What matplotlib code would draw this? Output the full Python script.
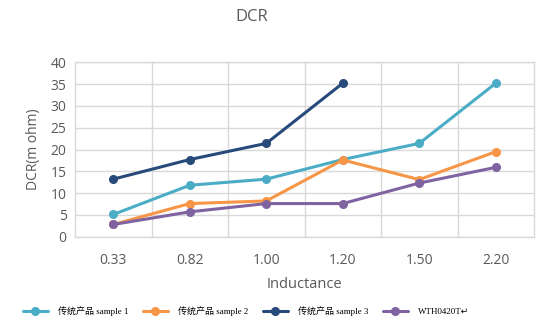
import numpy as np
import matplotlib.pyplot as plt

# data
categories = ["0.33", "0.82", "1.00", "1.20", "1.50", "2.20"]
sample1 = [5.1, 11.8, 13.2, 17.7, 21.4, 35.2]
sample2 = [2.8, 7.6, 8.2, 17.6, 13.1, 19.5]
sample3 = [13.2, 17.7, 21.4, 35.2]
wth0420t = [2.8, 5.7, 7.6, 7.6, 12.3, 15.9]

labels = ["传统产品 sample 1", "传统产品 sample 2", "传统产品 sample 3", "WTH0420T↵"]
colors = ["#4BACC6", "#F79646", "#284A7A", "#8064A2"]

sans = ["Open Sans", "DejaVu Sans"]
legend_font = ["Liberation Serif", "Noto Sans CJK SC", "DejaVu Sans"]
gray = "#595959"

fig = plt.figure(figsize=(5.48, 3.25), dpi=100)
ax = fig.add_axes([75 / 548, 1 - 236.7 / 325, (534 - 75) / 548, (236.7 - 62.3) / 325])

x = np.arange(len(categories))
series = [sample1, sample2, sample3, wth0420t]
for vals, lab, col in zip(series, labels, colors):
    ax.plot(x[:len(vals)], vals, color=col, lw=2.2, marker="o", ms=5.5,
            label=lab, solid_capstyle="round", zorder=3)

ax.set_xlim(-0.5, len(categories) - 0.5)
ax.set_ylim(0, 40)
ax.set_yticks(np.arange(0, 41, 5))
ax.set_xticks(x)
ax.set_xticklabels(categories)

# gridlines between categories and at every y tick
ax.set_xticks(np.arange(0.5, len(categories) - 0.5, 1), minor=True)
ax.grid(True, which="major", axis="y", color="#D9D9D9", lw=1)
ax.grid(True, which="minor", axis="x", color="#D9D9D9", lw=1)
ax.set_axisbelow(True)
for s in ax.spines.values():
    s.set_color("#D9D9D9")
    s.set_linewidth(1)
ax.tick_params(which="both", length=0)
ax.tick_params(axis="x", pad=12)
ax.tick_params(axis="y", pad=6)
for t in ax.get_xticklabels() + ax.get_yticklabels():
    t.set_family(sans)
    t.set_fontsize(10)
    t.set_color(gray)

ax.set_xlabel("Inductance", family=sans, fontsize=10.5, color=gray, labelpad=6)
ax.set_ylabel("DCR(m ohm)", family=sans, fontsize=10, color=gray, labelpad=7)

fig.text(252 / 548, 1 - 17 / 325, "DCR", family=sans, fontsize=12,
         color=gray, ha="center", va="center")

fig.legend(loc="center", bbox_to_anchor=(246 / 548, 1 - 311 / 325), ncol=4,
           frameon=False, prop={"family": legend_font, "size": 6.5},
           handlelength=2.8, columnspacing=1.6, handletextpad=1.1)

fig.savefig("out.png", dpi=100)
